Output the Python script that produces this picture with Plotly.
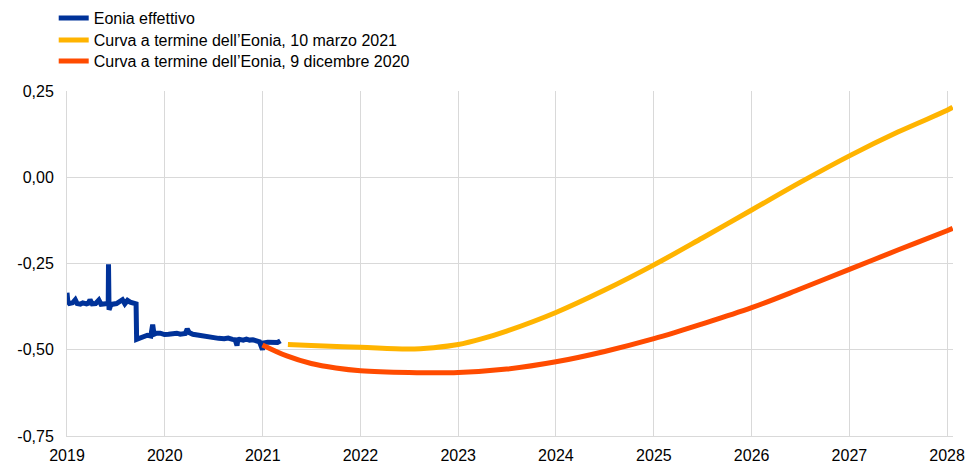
import plotly.graph_objects as go

# Eonia effettivo (osservazioni)
eonia_dates = [
    "2019-01-01", "2019-01-04", "2019-01-10", "2019-01-22", "2019-02-01", "2019-02-08",
    "2019-02-20", "2019-03-01", "2019-03-15", "2019-03-22", "2019-03-28", "2019-04-05",
    "2019-04-18", "2019-04-30", "2019-05-08", "2019-05-20", "2019-06-01", "2019-06-04",
    "2019-06-05", "2019-06-07", "2019-06-13", "2019-06-20", "2019-07-05", "2019-07-27",
    "2019-08-05", "2019-08-15", "2019-08-25", "2019-09-05", "2019-09-16", "2019-09-18",
    "2019-09-25", "2019-10-01", "2019-10-15", "2019-10-28", "2019-11-10", "2019-11-17",
    "2019-11-22", "2019-12-02", "2019-12-15", "2019-12-31", "2020-01-15", "2020-01-30",
    "2020-02-15", "2020-02-28", "2020-03-10", "2020-03-18", "2020-03-25", "2020-04-01",
    "2020-04-15", "2020-04-28", "2020-05-10", "2020-05-22", "2020-06-01", "2020-06-15",
    "2020-06-30", "2020-07-05", "2020-07-20", "2020-08-10", "2020-08-25", "2020-09-10",
    "2020-09-20", "2020-09-27", "2020-09-30", "2020-10-05", "2020-10-20", "2020-11-01",
    "2020-11-13", "2020-11-25", "2020-12-05", "2020-12-20", "2020-12-31", "2021-01-05",
    "2021-01-20", "2021-02-01", "2021-02-12", "2021-02-25", "2021-03-08",
]
eonia_values = [
    -0.335, -0.360, -0.366, -0.364, -0.355, -0.366,
    -0.368, -0.364, -0.367, -0.365, -0.355, -0.367,
    -0.366, -0.356, -0.368, -0.366, -0.366, -0.368,
    -0.252, -0.384, -0.372, -0.368, -0.366, -0.355,
    -0.367, -0.357, -0.362, -0.366, -0.367, -0.470,
    -0.468, -0.466, -0.462, -0.458, -0.460, -0.427,
    -0.455, -0.452, -0.452, -0.456, -0.455, -0.452,
    -0.452, -0.455, -0.453, -0.453, -0.440, -0.450,
    -0.455, -0.457, -0.459, -0.458, -0.460, -0.462,
    -0.465, -0.465, -0.467, -0.468, -0.466, -0.470,
    -0.471, -0.488, -0.471, -0.470, -0.472, -0.469,
    -0.472, -0.471, -0.475, -0.477, -0.500, -0.480,
    -0.478, -0.478, -0.476, -0.479, -0.474,
]

# Curva a termine dell'Eonia, 10 marzo 2021
fwd_mar_dates = [
    "2021-04-05", "2021-07-01", "2022-01-01", "2022-07-01", "2022-10-01", "2023-01-01",
    "2023-04-01", "2023-07-01", "2024-01-01", "2024-07-01", "2025-01-01", "2025-07-01",
    "2026-01-01", "2026-07-01", "2027-01-01", "2027-07-01", "2028-01-01", "2028-01-22",
]
fwd_mar_values = [
    -0.485, -0.488, -0.493, -0.498, -0.494, -0.485,
    -0.468, -0.446, -0.392, -0.327, -0.254, -0.176,
    -0.095, -0.015, 0.062, 0.131, 0.194, 0.203,
]

# Curva a termine dell'Eonia, 9 dicembre 2020
fwd_dec_dates = [
    "2020-12-31", "2021-04-01", "2021-07-01", "2021-10-01", "2022-01-01", "2022-07-01",
    "2023-01-01", "2023-07-01", "2024-01-01", "2024-07-01", "2025-01-01", "2025-07-01",
    "2026-01-01", "2026-07-01", "2027-01-01", "2027-07-01", "2028-01-01", "2028-01-22",
]
fwd_dec_values = [
    -0.486, -0.518, -0.540, -0.553, -0.561, -0.566,
    -0.566, -0.556, -0.535, -0.505, -0.468, -0.425,
    -0.378, -0.324, -0.267, -0.211, -0.155, -0.148,
]

y_ticks = [-0.75, -0.50, -0.25, 0.00, 0.25]
y_ticktext = ["-0,75", "-0,50", "-0,25", "0,00", "0,25"]

grid = "#d9d9d9"
W, H = 966, 463

fig = go.Figure()
fig.add_trace(go.Scatter(x=eonia_dates, y=eonia_values, mode="lines", name="Eonia effettivo",
                         line=dict(color="#003299", width=5), legend="legend"))
fig.add_trace(go.Scatter(x=fwd_mar_dates, y=fwd_mar_values, mode="lines",
                         name="Curva a termine dell\u2019Eonia, 10 marzo 2021",
                         line=dict(color="#FFB400", width=5, shape="spline"), legend="legend2"))
fig.add_trace(go.Scatter(x=fwd_dec_dates, y=fwd_dec_values, mode="lines",
                         name="Curva a termine dell\u2019Eonia, 9 dicembre 2020",
                         line=dict(color="#FF4B00", width=5, shape="spline"), legend="legend3"))

# one legend per row so the row spacing can be set
leg = dict(x=-0.015, xanchor="left", yanchor="middle", yref="container",
           bgcolor="rgba(0,0,0,0)", font=dict(size=16), itemwidth=30)
fig.update_layout(
    width=W, height=H,
    margin=dict(l=67, r=13, t=91, b=27, autoexpand=False),
    plot_bgcolor="white", paper_bgcolor="white",
    font=dict(family="Arial, Liberation Sans, sans-serif", size=16, color="#000000"),
    showlegend=True,
    legend=dict(leg, y=1 - 18 / H),
    legend2=dict(leg, y=1 - 40 / H),
    legend3=dict(leg, y=1 - 61 / H),
)
fig.update_xaxes(
    range=["2019-01-01", "2028-01-23"], dtick="M12", tick0="2019-01-01", tickformat="%Y",
    showgrid=True, gridcolor=grid, gridwidth=1, showline=True, linecolor=grid,
    ticks="", ticklabelstandoff=5, zeroline=False, automargin=False,
)
fig.update_yaxes(
    range=[-0.75, 0.25], tickvals=y_ticks, ticktext=y_ticktext,
    showgrid=True, gridcolor=grid, gridwidth=1, showline=True, linecolor=grid,
    zeroline=False, ticks="", ticklabelstandoff=9, automargin=False,
)

# drop the default page margin so the figure fills the window exactly
fig.write_html("out.html", config={"displayModeBar": False},
               post_script="document.body.style.margin = '0';")
